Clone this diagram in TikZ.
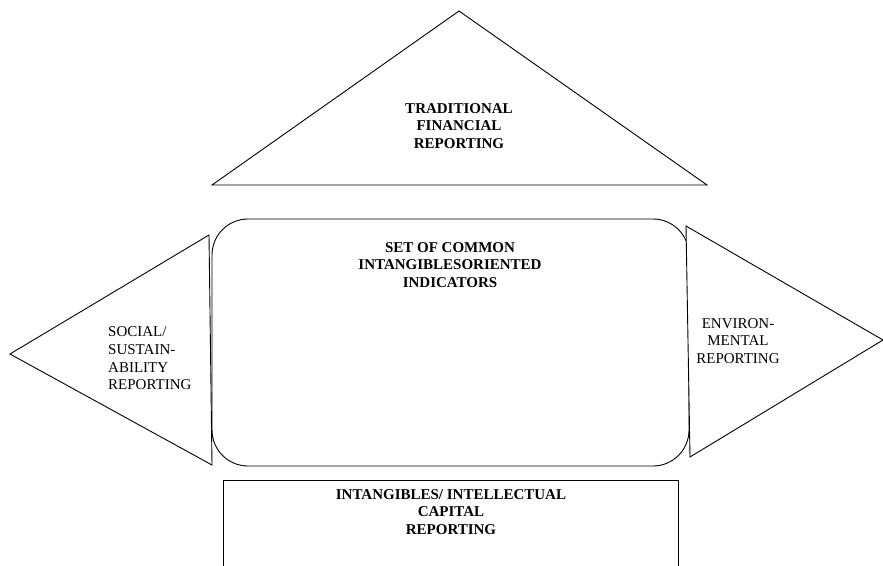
\documentclass[tikz,border=0pt]{standalone}
\usepackage{fontspec}
\setmainfont{Liberation Serif}
\begin{document}
\begin{tikzpicture}[x=1pt,y=-1pt,
  outline/.style={draw=black,line width=0.9pt,line join=miter},
  label/.style={inner sep=0pt,align=center,font=\fontsize{15}{17.6}\selectfont},
  boldlabel/.style={label,font=\fontsize{15}{17.6}\selectfont\bfseries}]
  \useasboundingbox (0,0) rectangle (883,565);

  % corner points of the shapes
  \coordinate (topA) at (459,11);
  \coordinate (topL) at (212,185);
  \coordinate (topR) at (707,185);
  \coordinate (lftA) at (10,354);
  \coordinate (lftT) at (209,235);
  \coordinate (lftB) at (212,465);
  \coordinate (rgtA) at (883,340);
  \coordinate (rgtT) at (686,226);
  \coordinate (rgtB) at (690,457);
  \coordinate (ctrNW) at (212,219);
  \coordinate (ctrSE) at (689,466);
  \coordinate (botSW) at (223,566);
  \coordinate (botNW) at (223,480);
  \coordinate (botNE) at (678,480);
  \coordinate (botSE) at (678,566);

  % central rounded panel
  \draw[outline,fill=white,rounded corners=36pt] (ctrNW) rectangle (ctrSE);
  % roof
  \draw[outline,fill=white] (topA) -- (topL) -- (topR) -- cycle;
  % side wings
  \draw[outline,fill=white] (lftA) -- (lftT) -- (lftB) -- cycle;
  \draw[outline,fill=white] (rgtA) -- (rgtT) -- (rgtB) -- cycle;
  % base block, running off the lower edge
  \draw[outline] (botSW) -- (botNW) -- (botNE) -- (botSE);

  \node[boldlabel] (trad) at (459,126) {TRADITIONAL\\FINANCIAL\\REPORTING};
  \node[boldlabel] (common) at (450,265) {SET OF COMMON\\INTANGIBLESORIENTED\\INDICATORS};
  \node[boldlabel] (ic) at (451,512) {INTANGIBLES/ INTELLECTUAL\\CAPITAL\\REPORTING};
  \node[label,align=left,anchor=west] (social) at (108,358.5) {SOCIAL/\\SUSTAIN-\\ABILITY\\REPORTING};
  \node[label] (env) at (738,341) {ENVIRON-\\MENTAL\\REPORTING};
\end{tikzpicture}
\end{document}
